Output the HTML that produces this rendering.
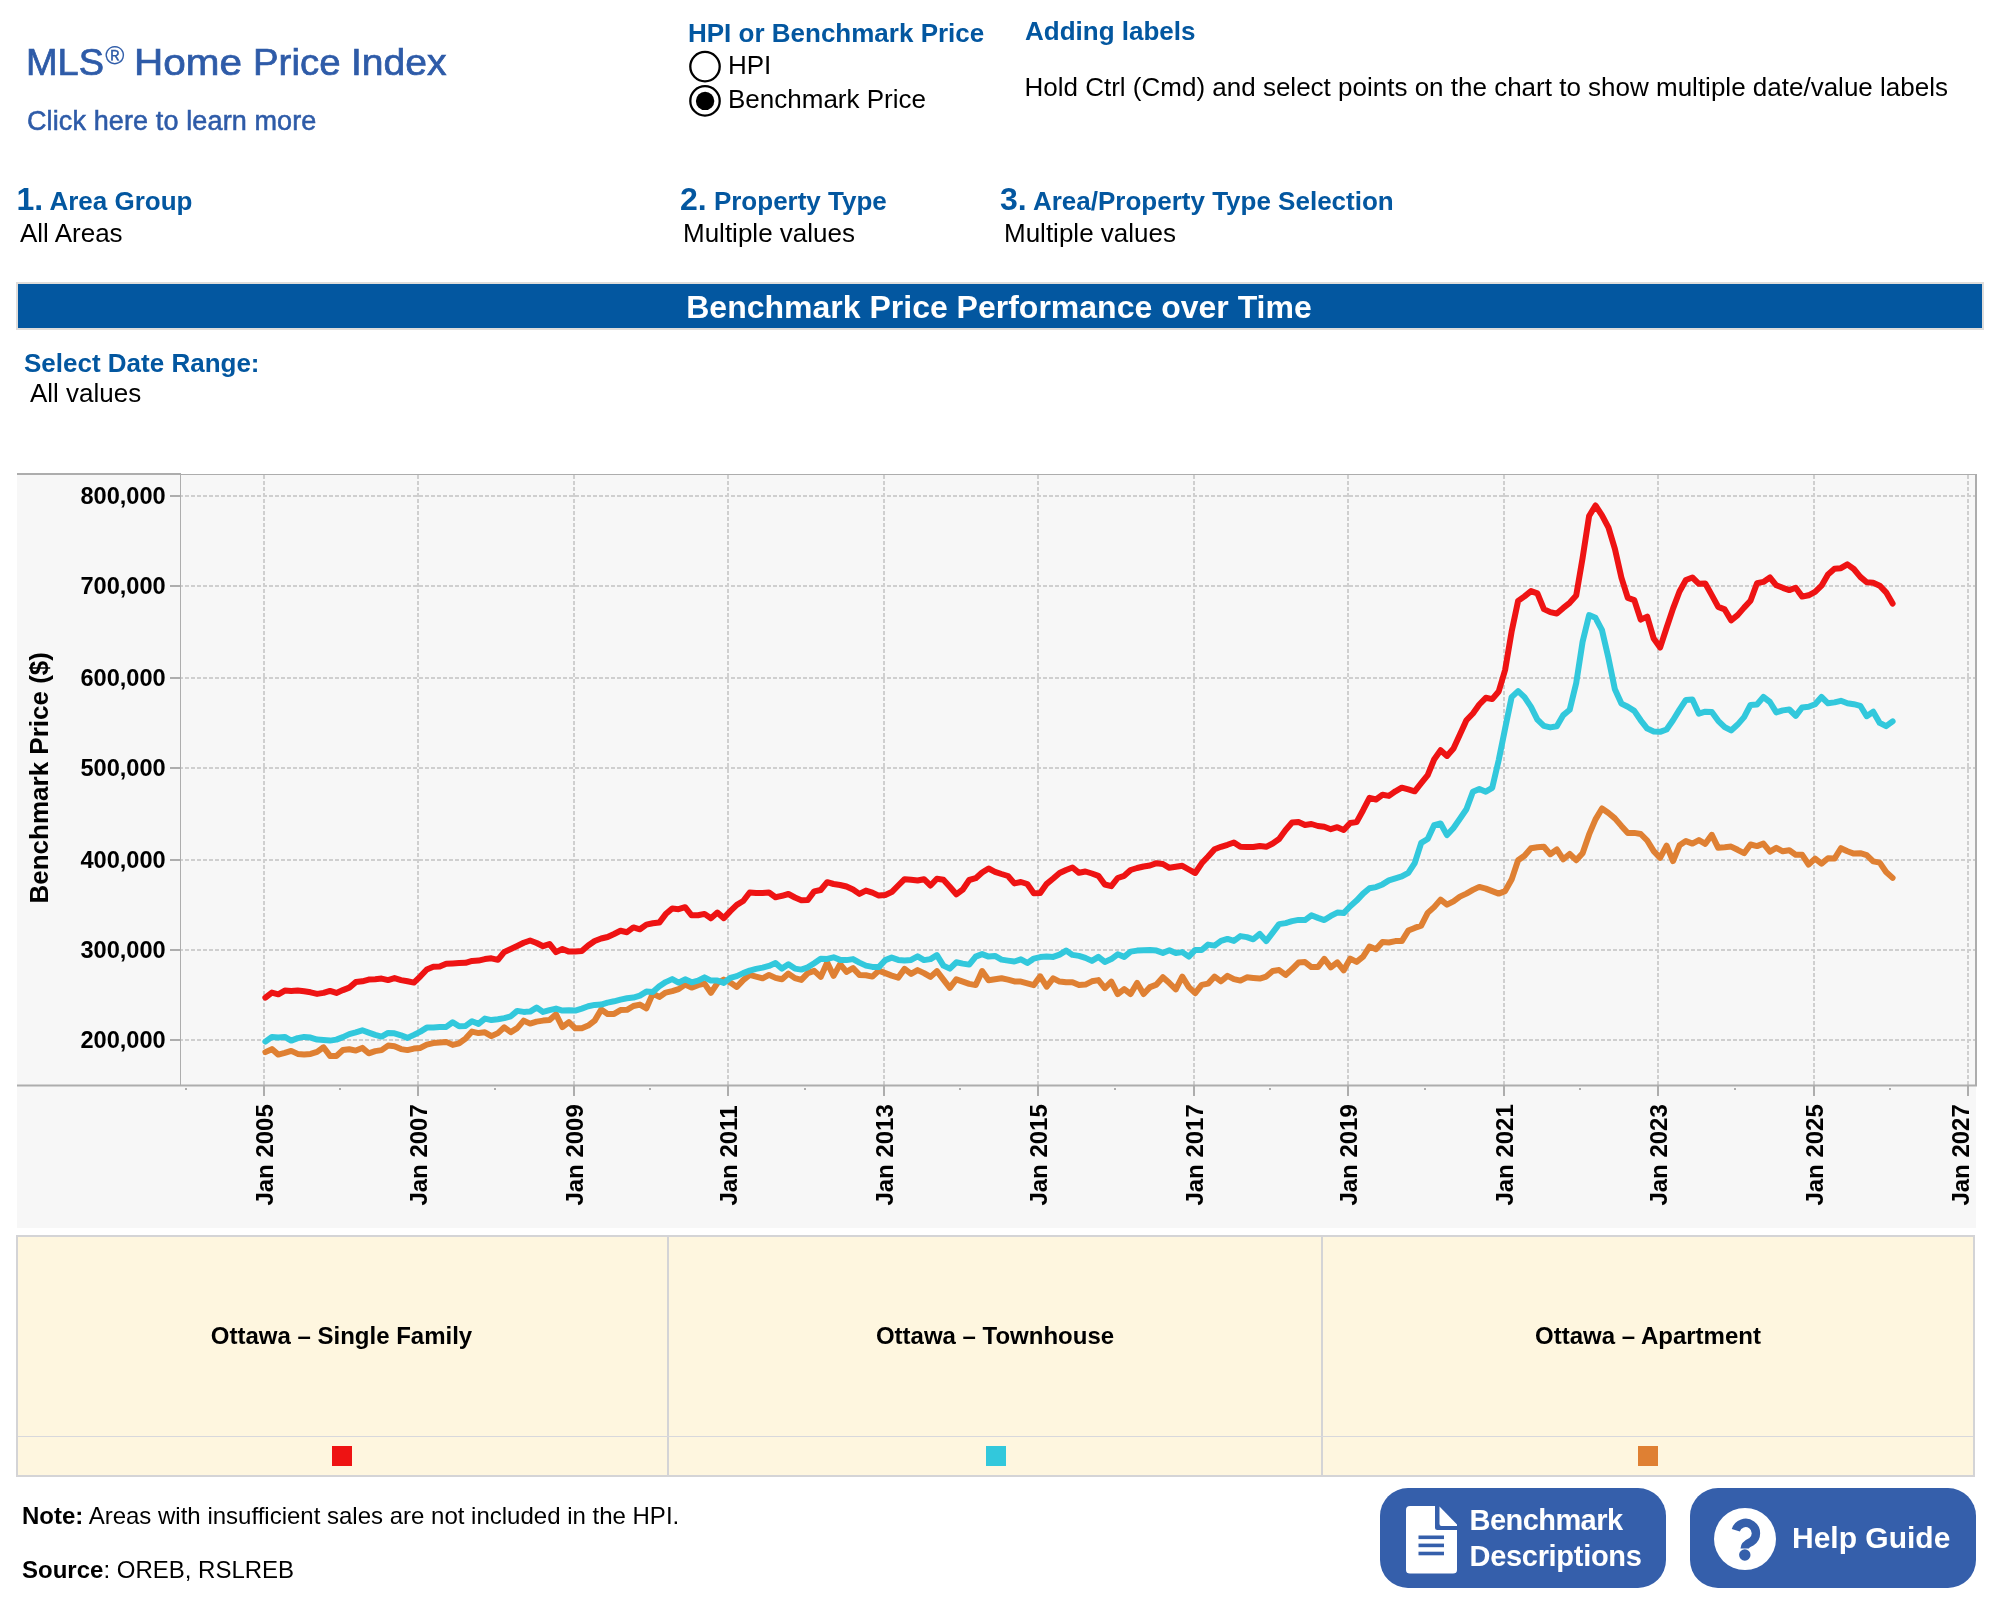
<!DOCTYPE html>
<html lang="en"><head><meta charset="utf-8"><title>MLS Home Price Index</title>
<style>
html,body{margin:0;padding:0;background:#fff;}
body{width:1998px;height:1598px;position:relative;overflow:hidden;font-family:"Liberation Sans",sans-serif;color:#000;}
.t{position:absolute;white-space:nowrap;line-height:1;}
.b{font-weight:bold;}
.h{color:#0357a0;font-weight:bold;font-size:26px;}
.r{font-size:26px;}
.n{font-size:32px;}
.chart{position:absolute;left:0;top:0;}
.logo{color:#2e5ba8;filter:blur(0.55px);}
.w{position:absolute;top:0;transform-origin:0 50%;}
.banner{position:absolute;left:16px;top:282px;width:1964px;height:44px;border:2px solid #dfdddb;background:#0357a0;}
.legend{position:absolute;left:16px;top:1235px;width:1955px;height:238px;border:2px solid #d4d4d6;background:#fef6df;}
.legend div{position:absolute;background:#d4d4d6;}
.sq{position:absolute;width:20px;height:20px;top:1446px;}
.btn{position:absolute;top:1488px;height:100px;width:286px;border-radius:28px;background:#355fab;color:#fff;filter:blur(0.4px);}
.btn .t{font-weight:bold;font-size:29px;}
#wrap{position:absolute;left:0;top:0;width:1998px;height:1598px;will-change:transform;transform:translateZ(0);}
</style></head><body><div id="wrap">
<div class="t logo" style="left:0;top:44.5px;font-size:36px;-webkit-text-stroke:0.7px #2e5ba8;width:500px;height:40px;">
<span class="w" style="left:26.2px;transform:scaleX(1.0535);">MLS</span>
<span class="w" style="left:105.2px;top:-2.2px;font-size:26px;-webkit-text-stroke:0.2px #2e5ba8;">®</span>
<span class="w" style="left:134.25px;transform:scaleX(1.1237);">Home</span>
<span class="w" style="left:252.97px;transform:scaleX(1.067);">Price</span>
<span class="w" style="left:350.85px;transform:scaleX(1.085);">Index</span>
</div>
<div class="t logo" style="left:27px;top:107.9px;font-size:27px;letter-spacing:0.12px;-webkit-text-stroke:0.55px #2e5ba8;">Click here to learn more</div>

<div class="t h" style="left:688px;top:20px;">HPI or Benchmark Price</div>
<div class="t r" style="left:728px;top:52px;">HPI</div>
<div class="t r" style="left:728px;top:85.5px;">Benchmark Price</div>

<div class="t h" style="left:1025px;top:18px;">Adding labels</div>
<div class="t r" style="left:1024.5px;top:74px;">Hold Ctrl (Cmd) and select points on the chart to show multiple date/value labels</div>

<div class="t h" style="left:16.5px;top:183px;"><span class="n">1.</span> Area Group</div>
<div class="t r" style="left:20px;top:220px;">All Areas</div>
<div class="t h" style="left:680px;top:183px;"><span class="n">2.</span> Property Type</div>
<div class="t r" style="left:683px;top:220px;">Multiple values</div>
<div class="t h" style="left:1000px;top:183px;"><span class="n">3.</span> Area/Property Type Selection</div>
<div class="t r" style="left:1004px;top:220px;">Multiple values</div>

<div class="banner"></div>
<div class="t b" style="left:17px;width:1964px;text-align:center;top:291px;font-size:32px;color:#fff;">Benchmark Price Performance over Time</div>

<div class="t h" style="left:24px;top:350px;">Select Date Range:</div>
<div class="t r" style="left:30px;top:380px;">All values</div>

<svg class="chart" width="1998" height="1598" viewBox="0 0 1998 1598">
<rect x="17" y="474" width="1959" height="754" fill="#f7f7f7"/>
<g stroke="#cfcfcf" stroke-width="2" stroke-dasharray="4 2" fill="none">
<path d="M179 496H1975"/>
<path d="M179 586H1975"/>
<path d="M179 678H1975"/>
<path d="M179 768H1975"/>
<path d="M179 860H1975"/>
<path d="M179 950H1975"/>
<path d="M179 1040H1975"/>
<path d="M264 475V1085"/>
<path d="M418 475V1085"/>
<path d="M574 475V1085"/>
<path d="M728 475V1085"/>
<path d="M884 475V1085"/>
<path d="M1038 475V1085"/>
<path d="M1194 475V1085"/>
<path d="M1348 475V1085"/>
<path d="M1504 475V1085"/>
<path d="M1658 475V1085"/>
<path d="M1814 475V1085"/>
<path d="M1968 475V1085"/>
</g>
<g fill="#adadad">
<rect x="17" y="473" width="164" height="2"/>
<rect x="181" y="474" width="1796" height="1"/>
<rect x="180" y="474" width="1" height="611"/>
<rect x="1975" y="474" width="2" height="612"/>
<rect x="17" y="1084.5" width="1960" height="2"/>
<rect x="170" y="495" width="10" height="2"/>
<rect x="170" y="585" width="10" height="2"/>
<rect x="170" y="677" width="10" height="2"/>
<rect x="170" y="767" width="10" height="2"/>
<rect x="170" y="859" width="10" height="2"/>
<rect x="170" y="949" width="10" height="2"/>
<rect x="170" y="1039" width="10" height="2"/>
<rect x="263" y="1086" width="2" height="10"/>
<rect x="417" y="1086" width="2" height="10"/>
<rect x="573" y="1086" width="2" height="10"/>
<rect x="727" y="1086" width="2" height="10"/>
<rect x="883" y="1086" width="2" height="10"/>
<rect x="1037" y="1086" width="2" height="10"/>
<rect x="1193" y="1086" width="2" height="10"/>
<rect x="1347" y="1086" width="2" height="10"/>
<rect x="1503" y="1086" width="2" height="10"/>
<rect x="1657" y="1086" width="2" height="10"/>
<rect x="1813" y="1086" width="2" height="10"/>
<rect x="1967" y="1086" width="2" height="10"/>
<rect x="185" y="1088" width="2" height="2"/>
<rect x="339" y="1088" width="2" height="2"/>
<rect x="494" y="1088" width="2" height="2"/>
<rect x="649" y="1088" width="2" height="2"/>
<rect x="804" y="1088" width="2" height="2"/>
<rect x="959" y="1088" width="2" height="2"/>
<rect x="1114" y="1088" width="2" height="2"/>
<rect x="1269" y="1088" width="2" height="2"/>
<rect x="1424" y="1088" width="2" height="2"/>
<rect x="1579" y="1088" width="2" height="2"/>
<rect x="1734" y="1088" width="2" height="2"/>
<rect x="1889" y="1088" width="2" height="2"/>
</g>
<polyline points="265.4,1052.1 271.9,1049.1 278.3,1054.6 284.8,1052.9 291.2,1050.9 297.7,1053.9 304.1,1054.6 310.6,1053.9 317.1,1051.9 323.5,1047.3 330.0,1055.9 336.4,1055.9 342.9,1050.1 349.3,1049.3 355.8,1050.6 362.3,1047.9 368.7,1053.3 375.2,1051.1 381.6,1050.1 388.1,1045.6 394.5,1046.3 401.0,1049.1 407.5,1050.1 413.9,1048.6 420.4,1047.9 426.8,1044.6 433.3,1043.1 439.7,1042.6 446.2,1041.9 452.7,1044.9 459.1,1043.3 465.6,1038.6 472.0,1031.6 478.5,1033.1 484.9,1032.3 491.4,1036.1 497.9,1033.1 504.3,1027.3 510.8,1032.1 517.2,1028.1 523.7,1020.6 530.1,1023.6 536.6,1021.6 543.1,1020.6 549.5,1020.1 556.0,1014.3 562.4,1027.1 568.9,1022.1 575.3,1028.3 581.8,1028.3 588.2,1025.6 594.7,1020.6 601.2,1009.6 607.6,1013.9 614.1,1013.9 620.5,1010.1 627.0,1009.8 633.4,1006.0 639.9,1004.6 646.4,1008.3 652.8,993.6 659.3,996.9 665.7,992.6 672.2,991.1 678.6,989.1 685.1,984.6 691.6,987.6 698.0,985.1 704.5,983.6 710.9,992.9 717.4,983.1 723.8,979.6 730.3,982.6 736.8,986.9 743.2,980.1 749.7,974.9 756.1,976.6 762.6,978.3 769.0,974.9 775.5,977.9 782.0,979.3 788.4,973.6 794.9,978.1 801.3,979.9 807.8,973.1 814.2,970.9 820.7,976.9 827.2,962.6 833.6,975.9 840.1,964.1 846.5,971.9 853.0,968.1 859.4,974.9 865.9,975.3 872.4,976.6 878.8,970.6 885.3,973.1 891.7,975.6 898.2,977.6 904.6,968.9 911.1,973.9 917.6,970.1 924.0,973.1 930.5,976.9 936.9,971.1 943.4,979.6 949.8,987.9 956.3,979.3 962.8,981.6 969.2,983.9 975.7,985.1 982.1,971.1 988.6,980.3 995.0,979.3 1001.5,978.3 1008.0,979.6 1014.4,981.4 1020.9,981.6 1027.3,983.3 1033.8,985.1 1040.2,976.3 1046.7,986.6 1053.2,978.3 1059.6,981.6 1066.1,982.3 1072.5,982.3 1079.0,985.1 1085.4,984.6 1091.9,981.3 1098.4,980.1 1104.8,988.1 1111.3,981.6 1117.7,994.2 1124.2,989.1 1130.6,994.0 1137.1,982.9 1143.6,994.0 1150.0,987.1 1156.5,984.6 1162.9,977.3 1169.4,983.1 1175.8,989.3 1182.3,976.6 1188.8,987.1 1195.2,993.2 1201.7,984.9 1208.1,983.6 1214.6,976.6 1221.0,981.3 1227.5,975.9 1233.9,979.1 1240.4,980.6 1246.9,977.3 1253.3,977.9 1259.8,978.6 1266.2,976.6 1272.7,970.9 1279.1,970.1 1285.6,974.9 1292.1,969.1 1298.5,962.6 1305.0,962.1 1311.4,967.1 1317.9,967.1 1324.3,958.9 1330.8,967.3 1337.3,962.3 1343.7,970.3 1350.2,958.6 1356.6,961.9 1363.1,956.6 1369.5,946.6 1376.0,949.3 1382.5,941.9 1388.9,942.5 1395.4,941.1 1401.8,941.1 1408.3,930.6 1414.7,927.9 1421.2,925.6 1427.7,912.9 1434.1,907.1 1440.6,899.6 1447.0,904.6 1453.5,901.3 1459.9,896.6 1466.4,893.6 1472.9,889.9 1479.3,886.9 1485.8,888.6 1492.2,891.1 1498.7,893.6 1505.1,891.1 1511.6,879.6 1518.1,860.3 1524.5,855.7 1531.0,848.2 1537.4,847.2 1543.9,846.7 1550.3,854.2 1556.8,849.5 1563.3,859.3 1569.7,854.0 1576.2,860.2 1582.6,853.2 1589.1,834.4 1595.5,819.4 1602.0,808.5 1608.5,813.0 1614.9,818.4 1621.4,825.9 1627.8,832.9 1634.3,832.9 1640.7,834.0 1647.2,840.5 1653.7,851.1 1660.1,857.9 1666.6,845.6 1673.0,861.1 1679.5,845.3 1685.9,841.1 1692.4,843.6 1698.9,840.1 1705.3,843.8 1711.8,834.8 1718.2,847.8 1724.7,847.3 1731.1,846.6 1737.6,849.8 1744.1,853.2 1750.5,844.5 1757.0,846.1 1763.4,843.6 1769.9,851.6 1776.3,847.8 1782.8,851.3 1789.3,850.3 1795.7,854.8 1802.2,854.8 1808.6,864.5 1815.1,858.6 1821.5,863.6 1828.0,858.2 1834.5,858.6 1840.9,848.2 1847.4,851.3 1853.8,853.6 1860.3,853.2 1866.7,855.1 1873.2,861.4 1879.7,862.6 1886.1,872.0 1892.6,877.9" fill="none" stroke="#df8033" stroke-width="6" stroke-linejoin="round" stroke-linecap="round"/>
<polyline points="265.4,1041.6 271.9,1036.9 278.3,1037.6 284.8,1036.9 291.2,1040.6 297.7,1038.1 304.1,1036.9 310.6,1037.6 317.1,1039.6 323.5,1040.1 330.0,1040.6 336.4,1039.6 342.9,1037.1 349.3,1034.1 355.8,1032.3 362.3,1030.3 368.7,1032.6 375.2,1034.9 381.6,1036.6 388.1,1032.9 394.5,1033.3 401.0,1035.3 407.5,1037.9 413.9,1034.9 420.4,1031.6 426.8,1027.6 433.3,1027.6 439.7,1027.1 446.2,1026.9 452.7,1022.3 459.1,1026.3 465.6,1025.9 472.0,1021.3 478.5,1023.9 484.9,1018.6 491.4,1020.1 497.9,1019.3 504.3,1018.1 510.8,1016.3 517.2,1010.9 523.7,1011.9 530.1,1011.6 536.6,1007.6 543.1,1011.9 549.5,1010.1 556.0,1008.6 562.4,1010.6 568.9,1010.3 575.3,1010.6 581.8,1008.6 588.2,1006.3 594.7,1004.9 601.2,1004.6 607.6,1002.6 614.1,1001.3 620.5,999.6 627.0,998.3 633.4,997.6 639.9,995.6 646.4,991.6 652.8,991.9 659.3,986.3 665.7,982.1 672.2,979.1 678.6,982.6 685.1,979.3 691.6,982.3 698.0,980.6 704.5,977.3 710.9,980.6 717.4,980.6 723.8,982.9 730.3,977.9 736.8,976.1 743.2,973.1 749.7,970.6 756.1,968.9 762.6,967.6 769.0,965.9 775.5,963.1 782.0,968.6 788.4,964.3 794.9,968.6 801.3,969.6 807.8,967.3 814.2,963.2 820.7,958.8 827.2,958.9 833.6,957.3 840.1,959.9 846.5,960.1 853.0,959.1 859.4,962.6 865.9,965.6 872.4,966.9 878.8,967.1 885.3,960.1 891.7,957.6 898.2,959.9 904.6,960.6 911.1,959.9 917.6,956.3 924.0,960.1 930.5,959.1 936.9,955.1 943.4,965.6 949.8,968.6 956.3,962.3 962.8,963.6 969.2,964.6 975.7,956.6 982.1,954.1 988.6,956.6 995.0,955.9 1001.5,959.6 1008.0,960.6 1014.4,961.5 1020.9,959.3 1027.3,962.9 1033.8,958.6 1040.2,957.1 1046.7,956.6 1053.2,956.9 1059.6,954.6 1066.1,950.6 1072.5,954.9 1079.0,955.9 1085.4,957.9 1091.9,960.9 1098.4,956.9 1104.8,961.9 1111.3,959.1 1117.7,954.3 1124.2,956.9 1130.6,951.6 1137.1,950.6 1143.6,950.3 1150.0,949.9 1156.5,950.6 1162.9,952.9 1169.4,950.3 1175.8,953.1 1182.3,952.1 1188.8,956.6 1195.2,949.9 1201.7,950.0 1208.1,944.6 1214.6,945.6 1221.0,940.9 1227.5,938.9 1233.9,940.9 1240.4,936.1 1246.9,937.1 1253.3,939.3 1259.8,933.9 1266.2,941.1 1272.7,932.6 1279.1,924.1 1285.6,923.1 1292.1,921.1 1298.5,919.9 1305.0,920.1 1311.4,915.3 1317.9,917.9 1324.3,920.1 1330.8,915.9 1337.3,912.6 1343.7,913.1 1350.2,906.3 1356.6,900.6 1363.1,893.6 1369.5,888.3 1376.0,887.1 1382.5,884.4 1388.9,880.4 1395.4,878.3 1401.8,876.4 1408.3,872.8 1414.7,863.1 1421.2,842.9 1427.7,839.0 1434.1,825.2 1440.6,823.5 1447.0,835.1 1453.5,827.9 1459.9,818.8 1466.4,809.2 1472.9,791.7 1479.3,788.9 1485.8,791.7 1492.2,787.9 1498.7,760.1 1505.1,728.6 1511.6,697.1 1518.1,691.1 1524.5,697.1 1531.0,706.8 1537.4,719.6 1543.9,725.9 1550.3,727.4 1556.8,726.3 1563.3,715.1 1569.7,709.8 1576.2,683.1 1582.6,641.8 1589.1,615.1 1595.5,617.8 1602.0,630.2 1608.5,658.3 1614.9,689.3 1621.4,703.6 1627.8,706.8 1634.3,710.9 1640.7,720.3 1647.2,728.6 1653.7,731.4 1660.1,731.8 1666.6,729.5 1673.0,720.2 1679.5,709.6 1685.9,699.9 1692.4,699.5 1698.9,713.7 1705.3,711.7 1711.8,712.0 1718.2,720.8 1724.7,727.1 1731.1,730.4 1737.6,724.6 1744.1,717.1 1750.5,704.9 1757.0,704.5 1763.4,697.0 1769.9,702.0 1776.3,712.4 1782.8,710.4 1789.3,709.5 1795.7,715.8 1802.2,707.4 1808.6,706.7 1815.1,704.2 1821.5,697.0 1828.0,703.3 1834.5,702.4 1840.9,700.8 1847.4,703.3 1853.8,704.2 1860.3,705.8 1866.7,716.2 1873.2,711.7 1879.7,722.9 1886.1,726.2 1892.6,721.4" fill="none" stroke="#32c8dc" stroke-width="6" stroke-linejoin="round" stroke-linecap="round"/>
<polyline points="265.4,997.6 271.9,992.6 278.3,994.3 284.8,990.6 291.2,990.9 297.7,990.6 304.1,991.3 310.6,992.3 317.1,993.9 323.5,992.9 330.0,990.9 336.4,992.9 342.9,990.1 349.3,987.6 355.8,982.1 362.3,981.3 368.7,979.6 375.2,979.3 381.6,978.6 388.1,980.1 394.5,978.1 401.0,980.1 407.5,981.3 413.9,982.6 420.4,976.3 426.8,969.5 433.3,966.8 439.7,966.6 446.2,963.8 452.7,963.4 459.1,963.1 465.6,962.8 472.0,960.9 478.5,960.6 484.9,959.1 491.4,958.3 497.9,959.8 504.3,951.9 510.8,949.0 517.2,946.0 523.7,942.8 530.1,940.5 536.6,943.0 543.1,946.2 549.5,944.0 556.0,952.1 562.4,949.0 568.9,951.6 575.3,951.6 581.8,951.1 588.2,945.5 594.7,941.0 601.2,938.5 607.6,937.0 614.1,934.0 620.5,930.8 627.0,932.2 633.4,927.4 639.9,929.3 646.4,924.6 652.8,923.3 659.3,922.6 665.7,914.1 672.2,908.5 678.6,909.2 685.1,907.2 691.6,915.3 698.0,915.3 704.5,913.9 710.9,918.3 717.4,912.6 723.8,918.1 730.3,911.1 736.8,904.8 743.2,901.0 749.7,892.5 756.1,893.0 762.6,893.0 769.0,892.5 775.5,897.2 782.0,895.8 788.4,894.0 794.9,897.5 801.3,900.2 807.8,900.0 814.2,891.4 820.7,890.0 827.2,882.2 833.6,884.0 840.1,885.0 846.5,886.5 853.0,889.5 859.4,893.9 865.9,890.6 872.4,892.6 878.8,895.6 885.3,894.9 891.7,892.1 898.2,885.5 904.6,879.2 911.1,879.8 917.6,880.5 924.0,879.2 930.5,885.5 936.9,878.8 943.4,879.8 949.8,886.8 956.3,894.3 962.8,889.5 969.2,880.0 975.7,878.2 982.1,872.5 988.6,868.5 995.0,871.8 1001.5,874.0 1008.0,876.0 1014.4,883.4 1020.9,882.0 1027.3,884.0 1033.8,893.3 1040.2,892.9 1046.7,883.8 1053.2,878.5 1059.6,873.0 1066.1,870.0 1072.5,867.5 1079.0,872.8 1085.4,871.5 1091.9,873.5 1098.4,875.8 1104.8,884.5 1111.3,886.2 1117.7,878.0 1124.2,875.8 1130.6,870.0 1137.1,868.0 1143.6,866.5 1150.0,865.5 1156.5,863.2 1162.9,864.0 1169.4,867.8 1175.8,866.8 1182.3,865.8 1188.8,869.5 1195.2,873.0 1201.7,863.3 1208.1,856.5 1214.6,849.2 1221.0,846.8 1227.5,844.8 1233.9,842.5 1240.4,846.8 1246.9,847.0 1253.3,847.0 1259.8,846.0 1266.2,846.8 1272.7,843.5 1279.1,839.0 1285.6,830.0 1292.1,822.5 1298.5,822.0 1305.0,825.0 1311.4,824.0 1317.9,826.0 1324.3,826.8 1330.8,829.2 1337.3,827.2 1343.7,830.0 1350.2,823.0 1356.6,822.1 1363.1,810.2 1369.5,797.8 1376.0,799.5 1382.5,794.8 1388.9,795.9 1395.4,791.3 1401.8,787.7 1408.3,789.4 1414.7,791.3 1421.2,783.1 1427.7,775.1 1434.1,759.5 1440.6,750.2 1447.0,755.9 1453.5,748.6 1459.9,734.6 1466.4,720.3 1472.9,713.5 1479.3,704.5 1485.8,697.8 1492.2,699.1 1498.7,691.5 1505.1,670.0 1511.6,631.7 1518.1,600.9 1524.5,596.4 1531.0,591.1 1537.4,593.4 1543.9,609.1 1550.3,612.1 1556.8,613.6 1563.3,607.9 1569.7,602.8 1576.2,595.6 1582.6,558.1 1589.1,516.0 1595.5,505.5 1602.0,515.3 1608.5,527.7 1614.9,548.8 1621.4,577.6 1627.8,597.9 1634.3,600.1 1640.7,619.6 1647.2,616.6 1653.7,638.6 1660.1,647.6 1666.6,627.7 1673.0,608.6 1679.5,591.5 1685.9,580.0 1692.4,577.5 1698.9,583.8 1705.3,583.5 1711.8,595.1 1718.2,606.9 1724.7,609.4 1731.1,620.3 1737.6,615.1 1744.1,607.6 1750.5,600.7 1757.0,583.2 1763.4,581.9 1769.9,577.5 1776.3,585.3 1782.8,587.8 1789.3,590.1 1795.7,587.8 1802.2,596.6 1808.6,595.3 1815.1,591.9 1821.5,585.7 1828.0,574.4 1834.5,568.8 1840.9,568.2 1847.4,564.4 1853.8,569.0 1860.3,576.9 1866.7,582.3 1873.2,582.8 1879.7,585.7 1886.1,592.3 1892.6,603.6" fill="none" stroke="#ee1313" stroke-width="6" stroke-linejoin="round" stroke-linecap="round"/>
<g font-family="Liberation Sans, sans-serif" font-weight="bold" fill="#000">
<text x="165.7" y="503.8" font-size="23.6" text-anchor="end">800,000</text>
<text x="165.7" y="593.8" font-size="23.6" text-anchor="end">700,000</text>
<text x="165.7" y="685.8" font-size="23.6" text-anchor="end">600,000</text>
<text x="165.7" y="775.8" font-size="23.6" text-anchor="end">500,000</text>
<text x="165.7" y="867.8" font-size="23.6" text-anchor="end">400,000</text>
<text x="165.7" y="957.8" font-size="23.6" text-anchor="end">300,000</text>
<text x="165.7" y="1047.8" font-size="23.6" text-anchor="end">200,000</text>
<text transform="translate(273.2 1205.6) rotate(-90)" font-size="24">Jan 2005</text>
<text transform="translate(427.2 1205.6) rotate(-90)" font-size="24">Jan 2007</text>
<text transform="translate(583.2 1205.6) rotate(-90)" font-size="24">Jan 2009</text>
<text transform="translate(737.2 1205.6) rotate(-90)" font-size="24">Jan 2011</text>
<text transform="translate(893.2 1205.6) rotate(-90)" font-size="24">Jan 2013</text>
<text transform="translate(1047.2 1205.6) rotate(-90)" font-size="24">Jan 2015</text>
<text transform="translate(1203.2 1205.6) rotate(-90)" font-size="24">Jan 2017</text>
<text transform="translate(1357.2 1205.6) rotate(-90)" font-size="24">Jan 2019</text>
<text transform="translate(1513.2 1205.6) rotate(-90)" font-size="24">Jan 2021</text>
<text transform="translate(1667.2 1205.6) rotate(-90)" font-size="24">Jan 2023</text>
<text transform="translate(1823.2 1205.6) rotate(-90)" font-size="24">Jan 2025</text>
<text transform="translate(1969.0 1205.6) rotate(-90)" font-size="24">Jan 2027</text>
<text transform="translate(48.3 903.5) rotate(-90)" font-size="26">Benchmark Price ($)</text>
</g>
<g fill="#fff" stroke="#000" stroke-width="2.3"><circle cx="705" cy="66.6" r="14.7"/><circle cx="705" cy="100.9" r="14.7"/></g><circle cx="705.1" cy="100.9" r="9.2" fill="#000"/>
</svg>

<div class="legend">
<div style="left:649px;top:0;width:2px;height:238px;"></div>
<div style="left:1303px;top:0;width:2px;height:238px;"></div>
<div style="left:0;top:199px;width:1955px;height:1px;background:#d8d8dc;"></div>
</div>
<div class="t b" style="left:17px;width:649px;text-align:center;top:1324px;font-size:24px;">Ottawa – Single Family</div>
<div class="t b" style="left:669px;width:652px;text-align:center;top:1324px;font-size:24px;">Ottawa – Townhouse</div>
<div class="t b" style="left:1323px;width:650px;text-align:center;top:1324px;font-size:24px;">Ottawa – Apartment</div>
<div class="sq" style="left:332px;background:#ee1313;"></div>
<div class="sq" style="left:986px;background:#32c8dc;"></div>
<div class="sq" style="left:1638px;background:#df8033;"></div>

<div class="t" style="left:22px;top:1504px;font-size:24px;"><b>Note:</b> Areas with insufficient sales are not included in the HPI.</div>
<div class="t" style="left:22px;top:1558px;font-size:24px;"><b>Source</b>: OREB, RSLREB</div>

<div class="btn" style="left:1380px;">
<svg style="position:absolute;left:26px;top:17.5px;" width="52" height="68" viewBox="0 0 52 68"><path d="M4 0H29V21.5Q29 24 31.5 24H51V64Q51 67.5 47 67.5H4Q0 67.5 0 64V4Q0 0 4 0Z" fill="#fff"/><path d="M33.5 0.5L51 18.5V20H35.5Q33.5 20 33.5 18Z" fill="#fff"/><g fill="#355fab"><rect x="12.5" y="29.5" width="25.5" height="3.6"/><rect x="12.5" y="37.6" width="25.5" height="3.6"/><rect x="12.5" y="45.7" width="25.5" height="3.6"/></g></svg>
<div class="t" style="left:89.5px;top:17.7px;letter-spacing:-0.55px;">Benchmark</div>
<div class="t" style="left:89.5px;top:54px;letter-spacing:-0.3px;">Descriptions</div>
</div>
<div class="btn" style="left:1690px;">
<svg style="position:absolute;left:24.1px;top:19.7px;" width="62" height="62" viewBox="0 0 62 62"><circle cx="31" cy="31" r="31" fill="#fff"/><path d="M21.8 22.2A10.3 10.3 0 1 1 37.6 33.6Q30.7 36.8 30.7 40.6" fill="none" stroke="#355fab" stroke-width="8.4"/><circle cx="30.8" cy="47" r="5.7" fill="#355fab"/></svg>
<div class="t" style="left:102px;top:34.5px;font-size:30px;">Help Guide</div>
</div>
</div></body></html>
